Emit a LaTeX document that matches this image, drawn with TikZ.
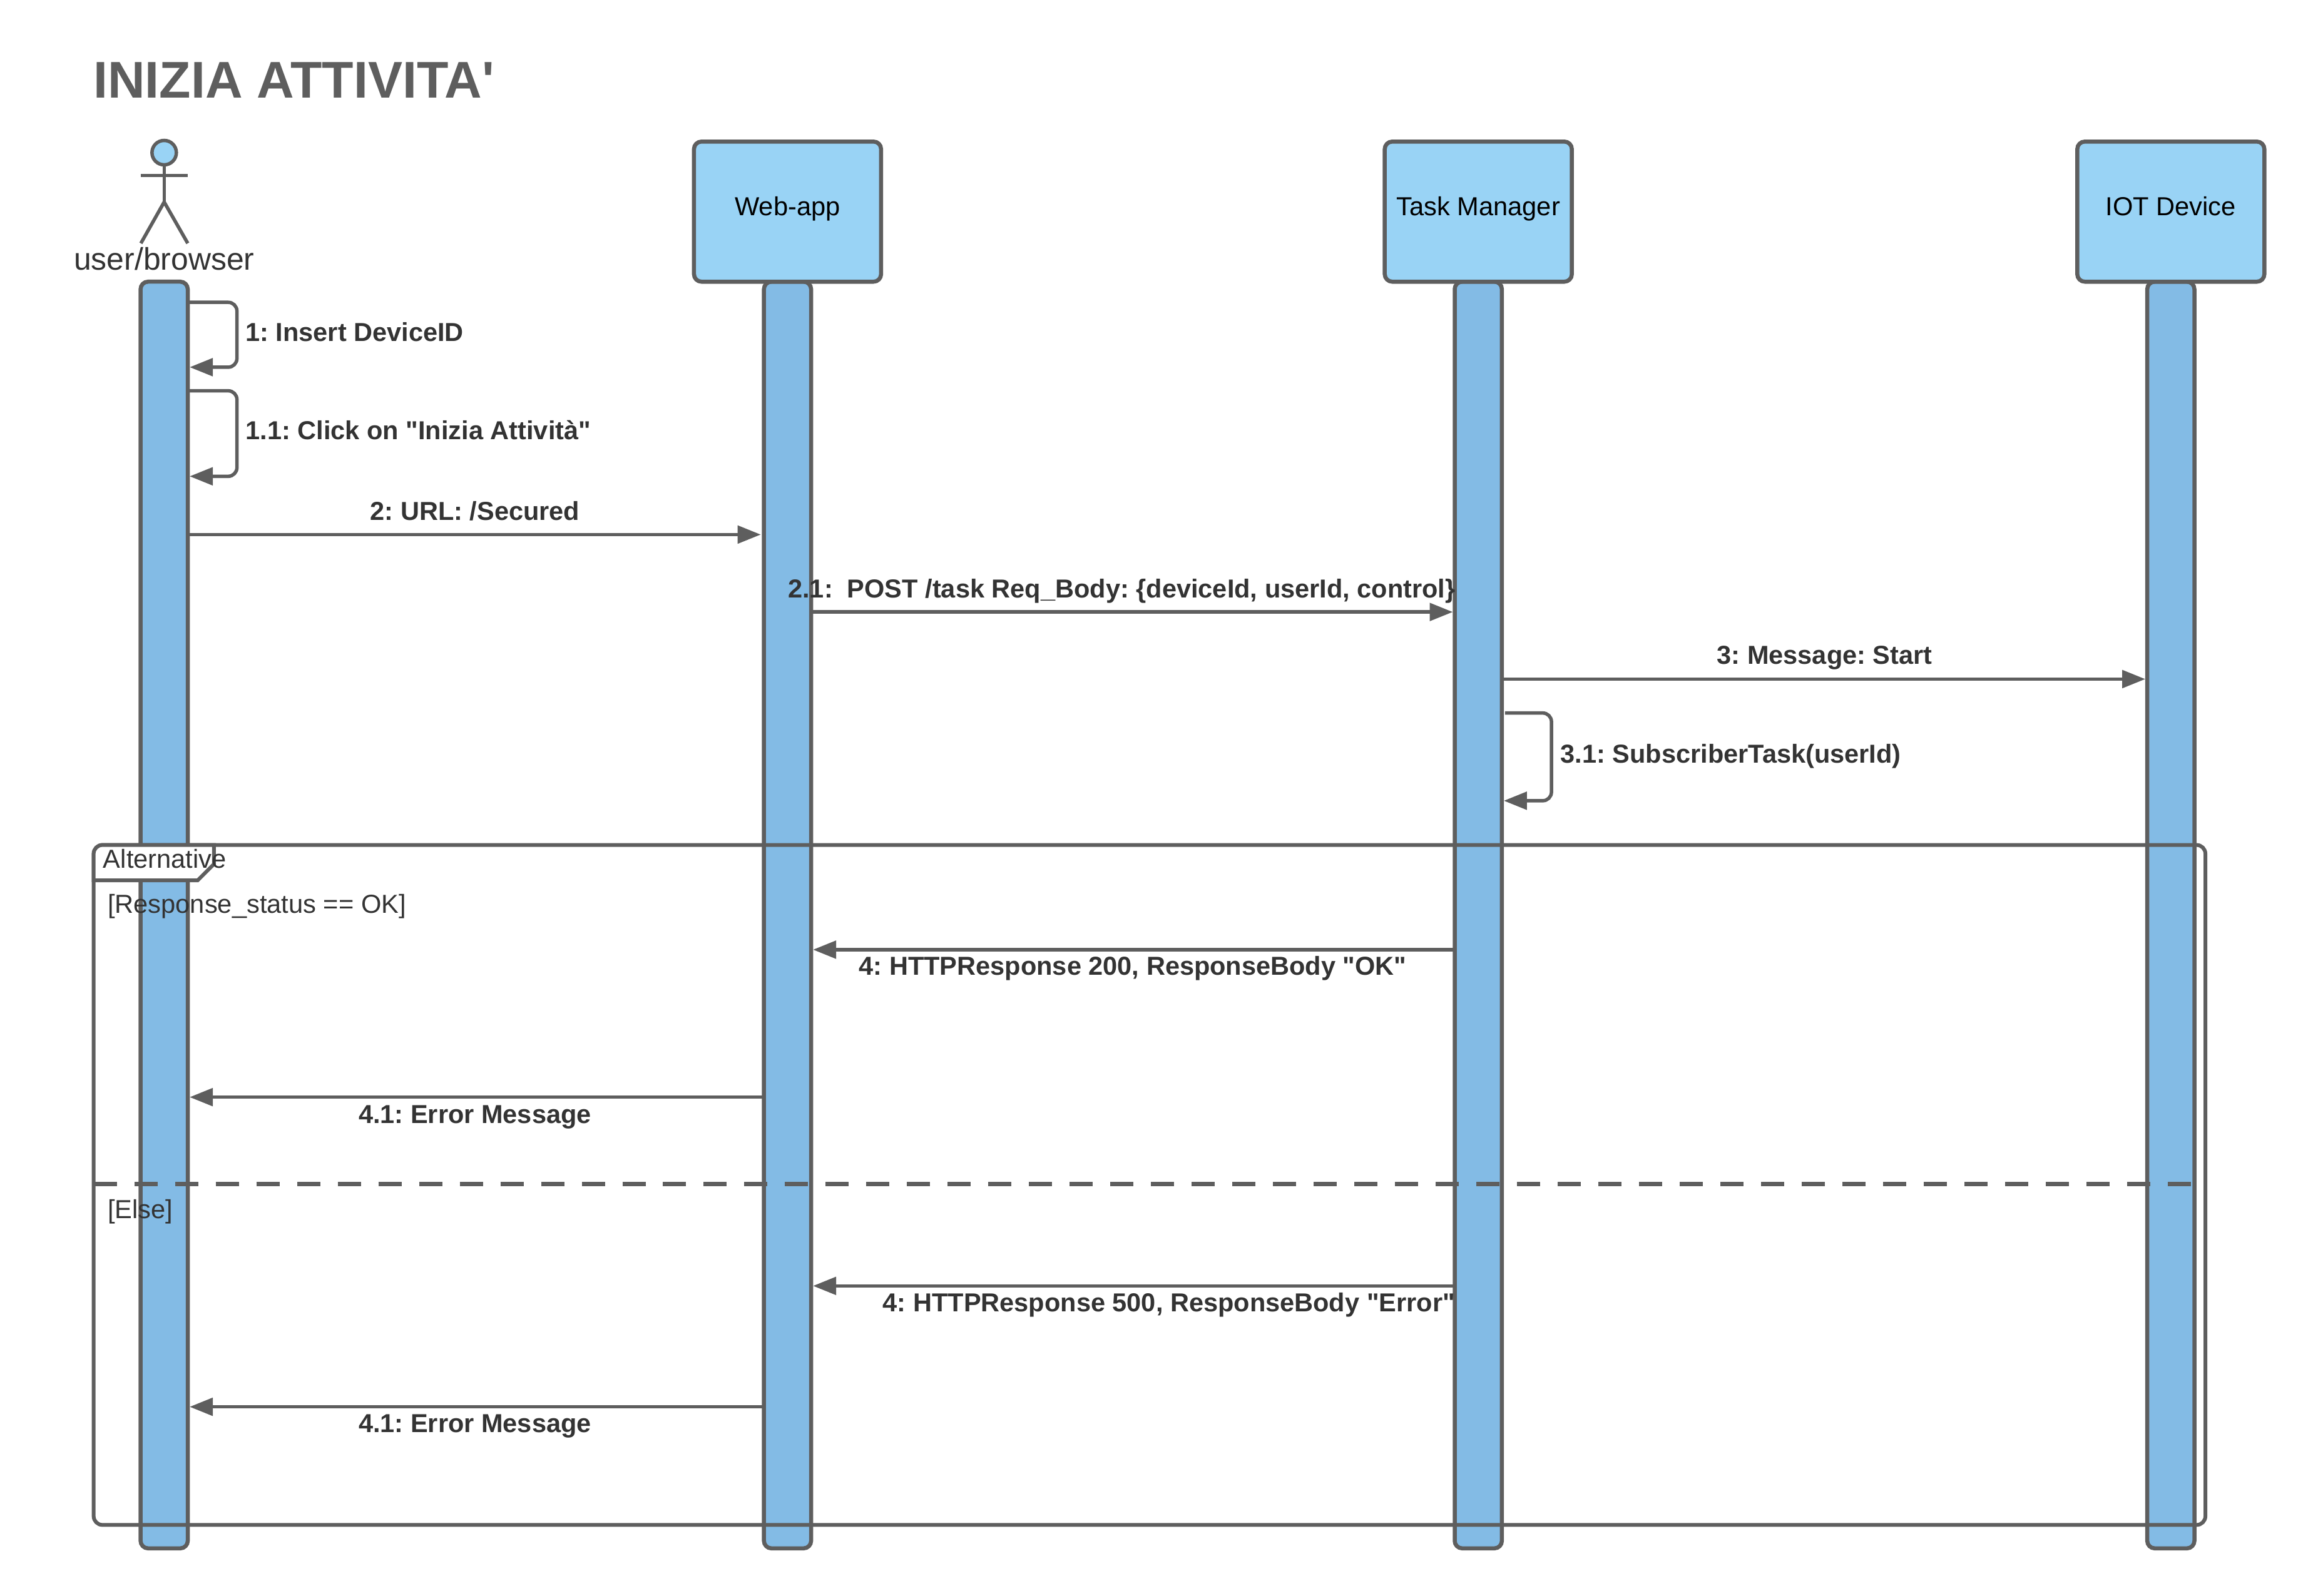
\documentclass[tikz,border=0pt]{standalone}
\usepackage{fontspec}
\setmainfont{Liberation Sans}[Ligatures=TeXOff]
\usetikzlibrary{arrows.meta,calc}
\definecolor{ln}{HTML}{5E5E5E}
\definecolor{lanefill}{HTML}{83BBE5}
\definecolor{headfill}{HTML}{99D3F5}
\definecolor{txt}{HTML}{333333}
\tikzset{
  x=0.02357cm,y=-0.02357cm,
  lane/.style={draw=ln,fill=lanefill,line width=.065cm,rounded corners=.12cm,minimum width=.754cm,minimum height=20.25cm,inner sep=0,outer sep=0,anchor=north},
  headbox/.style={draw=ln,fill=headfill,line width=.065cm,rounded corners=.12cm,minimum width=2.99cm,minimum height=2.24cm,inner sep=0,outer sep=0,anchor=north,text=black,font=\fontsize{11.85}{14}\selectfont,text height=.42cm,text depth=.30cm},
  msg/.style={draw=ln,line width=.055cm,-{Triangle[length=.37cm,width=.28cm]}},
  loopmsg/.style={msg,rounded corners=.14cm},
  lbl/.style={text=txt,font=\bfseries\fontsize{11.82}{14}\selectfont,inner sep=0,outer sep=0},
  plain/.style={text=txt,font=\fontsize{11.85}{14}\selectfont,inner sep=0,outer sep=0,anchor=west},
  limb/.style={draw=ln,line width=.055cm},
}
\begin{document}
\frenchspacing
\begin{tikzpicture}
\path[use as bounding box] (0,0) rectangle (1568.1,1081.9);
% lifelines
\node[lane] (l1) at (111.3,191) {};
\node[lane] (l2) at (533.9,191) {};
\node[lane] (l3) at (1002.2,191) {};
\node[lane] (l4) at (1471.7,191) {};
% headers
\node[headbox] (h2) at (533.9,96) {Web-app};
\node[headbox] (h3) at (1002.2,96) {Task Manager};
\node[headbox] (h4) at (1471.7,96) {IOT Device};
% actor
\node[circle,draw=ln,fill=headfill,line width=.055cm,minimum size=.39cm,inner sep=0,outer sep=0] (head) at (111.3,103.5) {};
\coordinate (hip) at (111.3,137);
\coordinate (armL) at (95.3,119);
\coordinate (armR) at (127.3,119);
\coordinate (footL) at (95.5,165);
\coordinate (footR) at (127.3,165);
\draw[limb] (head.south) -- (hip);
\draw[limb] (armL) -- (armR);
\draw[limb] (footL) -- (hip) -- (footR);
\node[text=txt,font=\fontsize{14.2}{16}\selectfont,inner sep=0] (actor) at (111.3,175.5) {user/browser};
% title
\node[text=ln,font=\bfseries\fontsize{23.5}{26}\selectfont,inner sep=0,anchor=west] (title) at (63,54.5) {INIZIA ATTIVITA'};
% frame
\node[draw=ln,line width=.06cm,rounded corners=.14cm,minimum width=33.75cm,minimum height=10.87cm,inner sep=0,outer sep=0,anchor=north west] (frame) at (63.5,573) {};
\coordinate (tabTR) at (145,573);
\coordinate (tabCh) at (145,586);
\coordinate (tabB) at (134,597);
\coordinate (tabBL) at (63.5,597);
\draw[ln,fill=white,line width=.06cm] (tabTR) [rounded corners=.14cm] -- (frame.north west) [sharp corners] -- (tabBL) -- (tabB) -- (tabCh) -- cycle;
\coordinate (dashL) at (frame.west |- 0,803);
\coordinate (dashR) at (frame.east |- 0,803);
\draw[ln,line width=.065cm,dash pattern=on .37cm off .28cm] (dashL) -- (dashR);
\node[plain] (alt) at (70,582.5) {Alternative};
\node[plain] (g1) at (73,614.5) {[Response\_status == OK]};
\node[plain] (g2) at (73,821.5) {[Else]};
% rows
\foreach \n/\v in {a/205,b/249,c/265,d/323,e/362.5,f/415,g/460.5,h/483.5,i/543,j/644,k/744,m/872,n/954}{\coordinate (y\n) at (0,\v);}
% messages
\draw[loopmsg] ([xshift=.02cm]l1.east |- ya) -- ++(32.5,0) |- ([xshift=.03cm]l1.east |- yb);
\draw[loopmsg] ([xshift=.02cm]l1.east |- yc) -- ++(32.5,0) |- ([xshift=.03cm]l1.east |- yd);
\draw[msg] ([xshift=.02cm]l1.east |- ye) -- ([xshift=-.05cm]l2.west |- ye);
\draw[msg] (l2.east |- yf) -- ([xshift=-.03cm]l3.west |- yf);
\draw[msg] ([xshift=.03cm]l3.east |- yg) -- ([xshift=-.03cm]l4.west |- yg);
\draw[loopmsg] ([xshift=.05cm]l3.east |- yh) -- ++(31.5,0) |- ([xshift=.03cm]l3.east |- yi);
\draw[msg] (l3.west |- yj) -- ([xshift=.03cm]l2.east |- yj);
\draw[msg] (l2.west |- yk) -- ([xshift=.03cm]l1.east |- yk);
\draw[msg] (l3.west |- ym) -- ([xshift=.03cm]l2.east |- ym);
\draw[msg] (l2.west |- yn) -- ([xshift=.03cm]l1.east |- yn);
% labels
\node[lbl,anchor=west] (t1) at (166.5,225) {1: Insert DeviceID};
\node[lbl,anchor=west] (t2) at (166.5,291.5) {1.1: Click on "Inizia Attività"};
\node[lbl] (t3) at (322,346.5) {2: URL: /Secured};
\node[lbl] (t4) at (760.5,401) {2.1:\ \ POST /task Req\_Body: \{deviceId, userId, control\}};
\node[lbl] (t5) at (1237,446) {3: Message: Start};
\node[lbl,anchor=west] (t6) at (1058,513) {3.1: SubscriberTask(userId)};
\node[lbl] (t7) at (768,656.5) {4: HTTPResponse 200, ResponseBody "OK"};
\node[lbl] (t8) at (322,757.5) {4.1: Error Message};
\node[lbl] (t9) at (792.5,885) {4: HTTPResponse 500, ResponseBody "Error"};
\node[lbl] (t10) at (322,967) {4.1: Error Message};
\end{tikzpicture}
\end{document}
